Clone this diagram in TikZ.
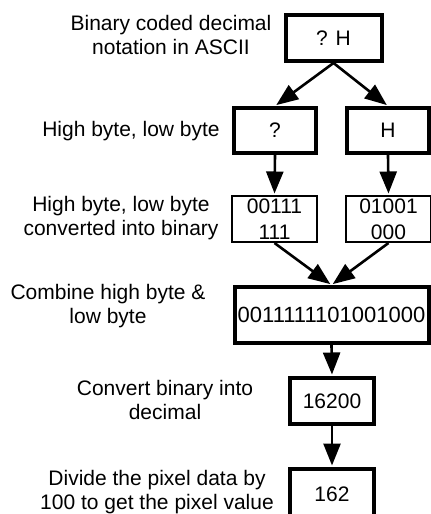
\documentclass[tikz,border=0pt]{standalone}
\usepackage{fontspec}
\setmainfont{Liberation Sans}
\usetikzlibrary{arrows.meta}

\begin{document}
\begin{tikzpicture}[
  x=1pt,
  y=-1pt,
  labeltext/.style={
    font=\fontsize{21}{23.5}\selectfont,
    align=center
  },
  thickbox/.style={
    draw,
    line width=4pt,
    inner sep=0pt,
    font=\fontsize{21}{26}\selectfont,
    align=center
  },
  thinbox/.style={
    thickbox,
    line width=1.8pt
  },
  flow/.style={
    line width=2.6pt,
    shorten >=1.5pt,
    -{Triangle[length=22pt,width=17pt]}
  }
]

% Canvas, 431 x 514
\clip (0,0) rectangle (431,514);

% Boxes
\node[thickbox, minimum width=96pt, minimum height=46pt] (bcd) at (333.5,38) {? H};
\node[thickbox, minimum width=82pt, minimum height=45pt] (hi) at (275,130.5) {?};
\node[thickbox, minimum width=82pt, minimum height=45pt] (lo) at (388,130.5) {H};
\node[thinbox, minimum width=85.2pt, minimum height=46.2pt] (hibin) at (274.5,219) {00111\\111};
\node[thinbox, minimum width=85.2pt, minimum height=46.2pt] (lobin) at (388.5,219) {01001\\000};
\node[thickbox, minimum width=194pt, minimum height=56pt,
  font=\fontsize{22}{26}\selectfont] (comb) at (331.5,315) {0011111101001000};
\node[thickbox, minimum width=84pt, minimum height=46pt] (dec) at (332,401) {16200};
\node[thickbox, minimum width=84pt, minimum height=50pt] (pix) at (332,494) {162};

% Labels on the left
\node[labeltext] (lbcd) at (171,35) {Binary coded decimal\\ notation in ASCII};
\node[labeltext] (lbyte) at (131,131) {High byte, low byte};
\node[labeltext] (lbin) at (121,218) {High byte, low byte\\ converted into binary};
\node[labeltext] (lcomb) at (108,306) {Combine high byte \&\\ low byte};
\node[labeltext] (ldec) at (165,400) {Convert binary into\\ decimal};
\node[labeltext] (lpix) at (157,492) {Divide the pixel data by\\ 100 to get the pixel value};

% Arrows
\draw[flow] (bcd.south) -- (hi.north);
\draw[flow] (bcd.south) -- (lo.north);
\draw[flow] (hi.south) -- (hibin.north);
\draw[flow] (lo.south) -- (lobin.north);
\draw[flow] (hibin.south) -- (comb.north);
\draw[flow] (lobin.south) -- (comb.north);
\draw[flow] (comb.south) -- (dec.north);
\draw[flow] (dec.south) -- (pix.north);

\end{tikzpicture}
\end{document}
